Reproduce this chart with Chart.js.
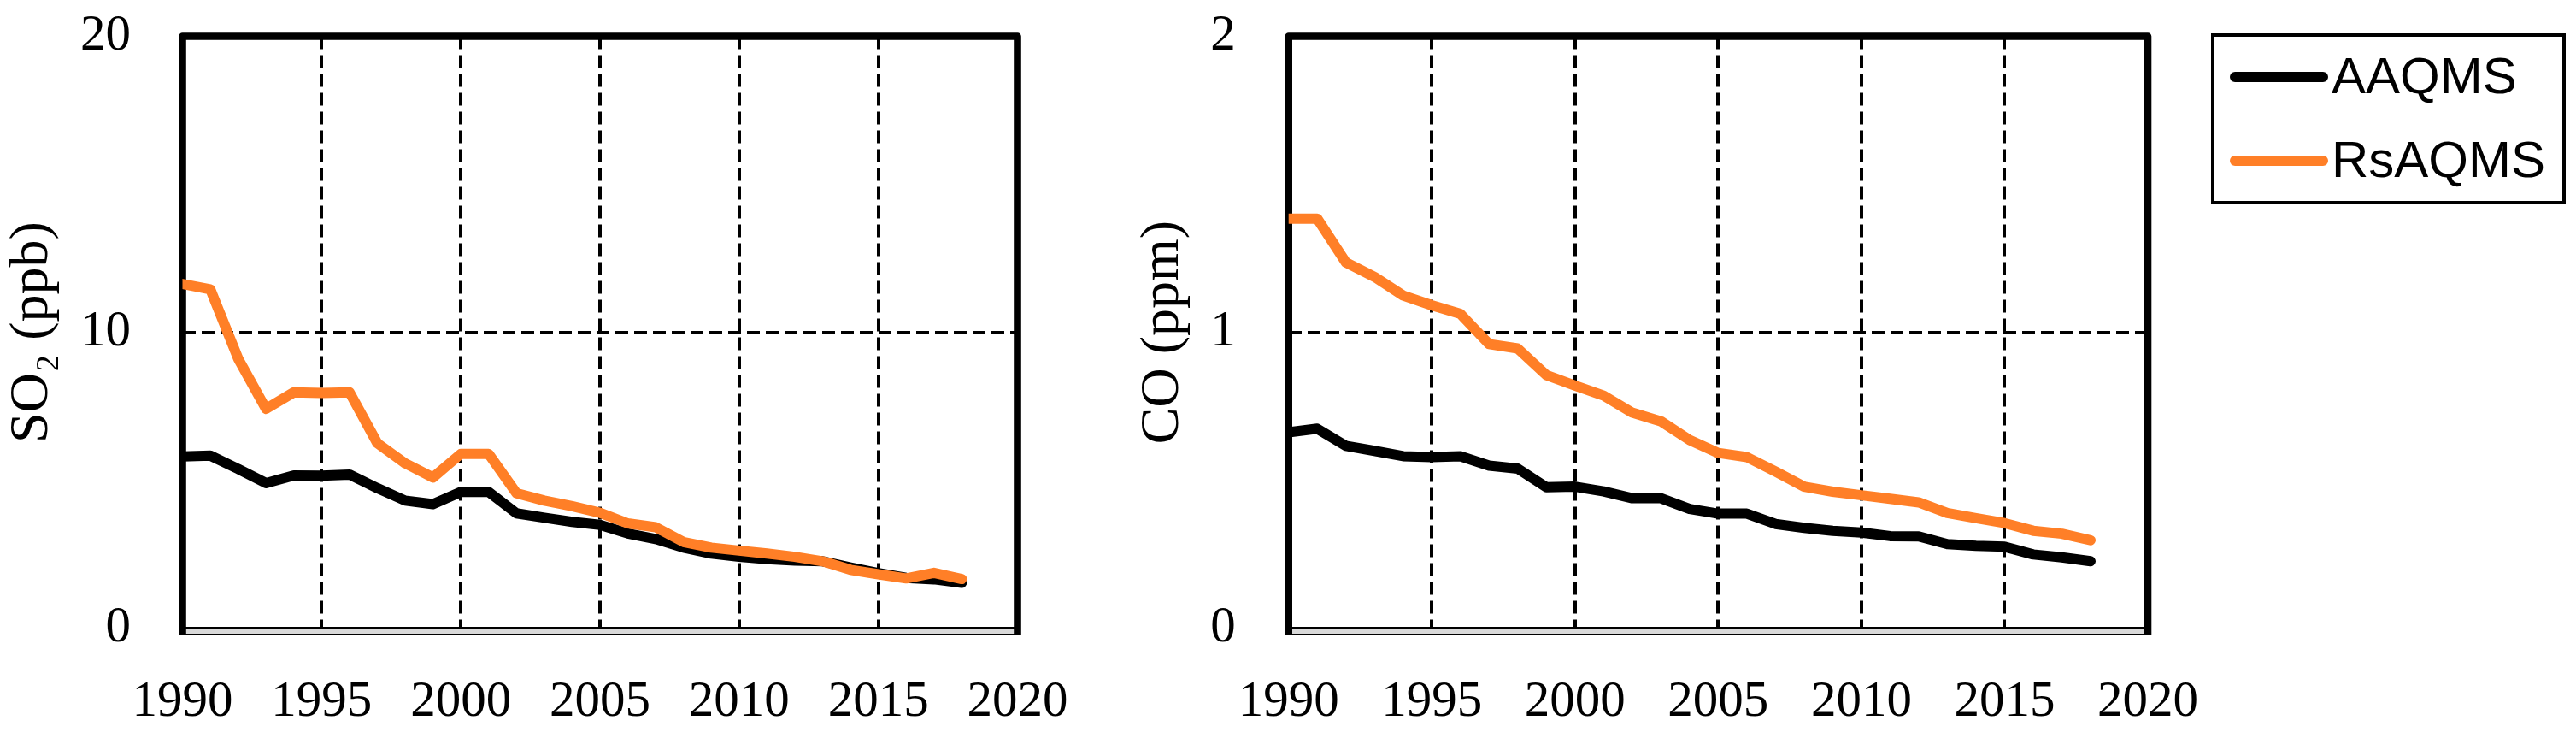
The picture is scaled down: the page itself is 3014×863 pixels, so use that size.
<!DOCTYPE html>
<html>
<head>
<meta charset="utf-8">
<script src="https://cdn.jsdelivr.net/npm/chart.js"></script>
<style>
  html, body { margin: 0; padding: 0; background: #fff; }
  body { width: 3014px; height: 863px; position: relative; overflow: hidden; }
  canvas { position: absolute; top: 0; }
  #legend { position: absolute; left: 2587px; top: 39px; width: 415px; height: 200px;
            box-sizing: border-box; border: 4.5px solid #000; background: #fff; }
  #legend .ln { position: absolute; left: 17.5px; width: 115px; height: 12px; border-radius: 6px; }
  #legend .tx { position: absolute; left: 137px; font-family: "Liberation Sans", Arial, sans-serif;
                font-size: 60px; line-height: 60px; white-space: nowrap; color: #000; }
</style>
</head>
<body>
<canvas id="c1" width="1300" height="863" style="left:0px;width:1300px;height:863px"></canvas>
<canvas id="c2" width="1280" height="863" style="left:1300px;width:1280px;height:863px"></canvas>
<div id="legend"></div>
<script>
// ---------------- data ----------------
const years = [1990, 1991, 1992, 1993, 1994, 1995, 1996, 1997, 1998, 1999,
               2000, 2001, 2002, 2003, 2004, 2005, 2006, 2007, 2008, 2009,
               2010, 2011, 2012, 2013, 2014, 2015, 2016, 2017, 2018];

const so2AAQMS = [5.80, 5.83, 5.38, 4.90, 5.16, 5.15, 5.19, 4.73, 4.31, 4.19,
                  4.60, 4.60, 3.88, 3.73, 3.59, 3.49, 3.20, 3.01, 2.72, 2.52,
                  2.41, 2.33, 2.28, 2.26, 2.05, 1.86, 1.70, 1.65, 1.53];
const so2RsAQMS = [11.63, 11.45, 9.11, 7.41, 7.97, 7.95, 7.97, 6.25, 5.57, 5.09,
                   5.89, 5.89, 4.56, 4.31, 4.12, 3.90, 3.54, 3.41, 2.91, 2.72,
                   2.62, 2.52, 2.41, 2.26, 1.97, 1.82, 1.68, 1.87, 1.66];

const coAAQMS = [0.662, 0.674, 0.616, 0.599, 0.581, 0.578, 0.581, 0.549, 0.539, 0.476,
                 0.478, 0.462, 0.439, 0.439, 0.403, 0.387, 0.387, 0.352, 0.339, 0.329,
                 0.323, 0.311, 0.310, 0.284, 0.278, 0.275, 0.249, 0.239, 0.226];
const coRsAQMS = [1.384, 1.384, 1.236, 1.187, 1.124, 1.091, 1.062, 0.960, 0.945, 0.855,
                  0.820, 0.786, 0.728, 0.699, 0.636, 0.592, 0.578, 0.529, 0.478, 0.461,
                  0.449, 0.437, 0.425, 0.389, 0.372, 0.355, 0.329, 0.319, 0.297];

const seriesNames = ['AAQMS', 'RsAQMS'];
const xTicks = [1990, 1995, 2000, 2005, 2010, 2015, 2020];
const so2Ticks = [0, 10, 20];
const coTicks = [0, 1, 2];
const so2Title = 'SO\u2082 (ppb)';
const coTitle = 'CO (ppm)';

// ---------------- styling ----------------
const BLACK = '#000000';
const ORANGE = '#FF7F27';
const CLEAR = 'rgba(0,0,0,0)';
const SERIF = '"Liberation Serif", "Times New Roman", serif';

const framePlugin = {
  id: 'frame',
  beforeDatasetsDraw(chart) {
    const {ctx, chartArea: a} = chart;
    const L = a.left, R = a.right, T = a.top, B = a.bottom;
    ctx.save();
    // grey floor under the x axis
    ctx.fillStyle = '#d9d9d9';
    ctx.fillRect(L, B, R - L, 7.4);
    ctx.strokeStyle = BLACK;
    ctx.lineWidth = 2.8;
    ctx.beginPath(); ctx.moveTo(L, B); ctx.lineTo(R, B); ctx.stroke();
    ctx.lineWidth = 1.6;
    ctx.beginPath(); ctx.moveTo(L - 3, B + 7.4); ctx.lineTo(R + 3, B + 7.4); ctx.stroke();
    // thick frame: left, top, right
    ctx.lineWidth = 8.6;
    ctx.lineJoin = 'round';
    ctx.beginPath();
    ctx.moveTo(L, B + 8);
    ctx.lineTo(L, T);
    ctx.lineTo(R, T);
    ctx.lineTo(R, B + 8);
    ctx.stroke();
    ctx.restore();
  }
};

function makeChart(canvasId, aaqms, rsaqms, yTicks, yTitle, opts) {
  const yMax = yTicks[yTicks.length - 1];
  const xMin = xTicks[0], xMax = xTicks[xTicks.length - 1];
  const ds = (name, vals, color, order) => ({
    label: name,
    data: years.map((yr, i) => ({x: yr, y: vals[i]})),
    borderColor: color,
    backgroundColor: color,
    borderWidth: 12,
    pointRadius: 0,
    pointHoverRadius: 0,
    tension: 0,
    borderCapStyle: 'round',
    borderJoinStyle: 'round',
    clip: {left: 0, top: 12, right: 12, bottom: 12},
    order: order
  });
  return new Chart(document.getElementById(canvasId), {
    type: 'line',
    data: {
      datasets: [
        ds(seriesNames[0], aaqms, BLACK, 1),
        ds(seriesNames[1], rsaqms, ORANGE, 0)
      ]
    },
    options: {
      responsive: false,
      animation: false,
      devicePixelRatio: 1,
      events: [],
      layout: {padding: {top: 42.5, right: opts.padRight, bottom: 0, left: 0}},
      plugins: {legend: {display: false}, tooltip: {enabled: false}},
      scales: {
        x: {
          type: 'linear',
          min: xMin, max: xMax,
          afterBuildTicks: s => { s.ticks = xTicks.map(v => ({value: v})); },
          afterFit: s => { s.height = 128.5; },
          ticks: {
            autoSkip: false, maxRotation: 0, padding: 0, color: BLACK,
            font: {family: SERIF, size: 59},
            callback: v => String(v)
          },
          grid: {
            drawTicks: true, tickLength: 52, tickColor: CLEAR, lineWidth: 4,
            color: c => (c.tick && (c.tick.value === xMin || c.tick.value === xMax)) ? CLEAR : BLACK
          },
          border: {display: false, dash: [15, 7]}
        },
        y: {
          type: 'linear',
          min: 0, max: yMax,
          afterBuildTicks: s => { s.ticks = yTicks.map(v => ({value: v})); },
          afterFit: s => { s.width = opts.yWidth; },
          ticks: {
            padding: 0, color: BLACK,
            font: {family: SERIF, size: 59},
            callback: v => String(v)
          },
          grid: {
            drawTicks: true, tickLength: opts.tickPad, tickColor: CLEAR, lineWidth: 4,
            color: c => (c.tick && (c.tick.value === 0 || c.tick.value === yMax)) ? CLEAR : BLACK
          },
          border: {display: false, dash: [15, 7]},
          title: {
            display: true, text: yTitle, color: BLACK,
            font: {family: SERIF, size: 64},
            padding: {top: opts.titlePad, bottom: 0}
          }
        }
      }
    },
    plugins: [framePlugin]
  });
}

const chart1 = makeChart('c1', so2AAQMS, so2RsAQMS, so2Ticks, so2Title,
  {padRight: 1300 - 1190.5, yWidth: 213.5, tickPad: 60.5, titlePad: 0});
const chart2 = makeChart('c2', coAAQMS, coRsAQMS, coTicks, coTitle,
  {padRight: 1280 - 1213, yWidth: 207.7, tickPad: 62, titlePad: 23});

// HTML legend built from the second chart's datasets
(function buildLegend() {
  const box = document.getElementById('legend');
  const lineTops = [41.2, 138.5];
  const textTops = [15.7, 114];
  chart2.data.datasets.forEach((d, i) => {
    const ln = document.createElement('div');
    ln.className = 'ln';
    ln.style.top = lineTops[i] + 'px';
    ln.style.background = d.borderColor;
    const tx = document.createElement('div');
    tx.className = 'tx';
    tx.style.top = textTops[i] + 'px';
    tx.textContent = d.label;
    box.appendChild(ln);
    box.appendChild(tx);
  });
})();
</script>
</body>
</html>
